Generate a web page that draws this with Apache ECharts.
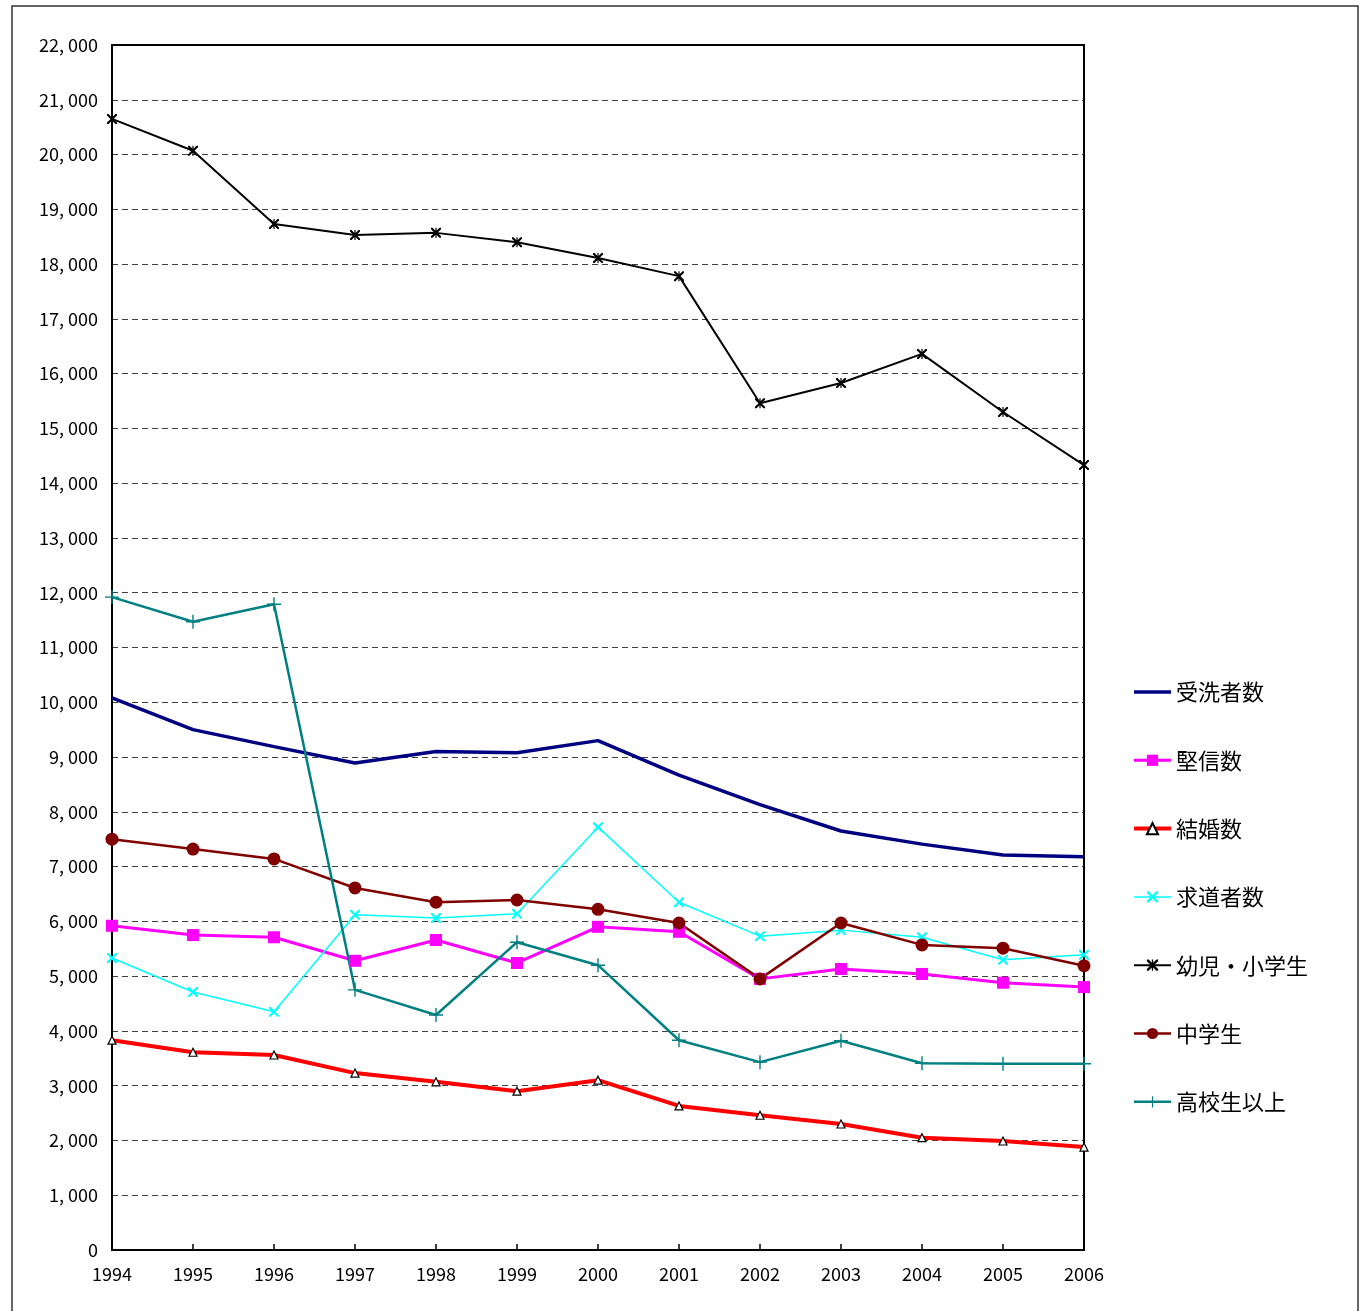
<!DOCTYPE html>
<html><head><meta charset="utf-8">
<script src="https://cdn.jsdelivr.net/npm/echarts@6/dist/echarts.min.js"></script>
<style>html,body{margin:0;padding:0;background:#fff}#c{width:1362px;height:1311px}</style>
</head><body><div id="c"></div>
<script>
const years = ['1994','1995','1996','1997','1998','1999','2000','2001','2002','2003','2004','2005','2006'];
const baptism = [10080,9500,9190,8890,9100,9080,9300,8670,8130,7650,7410,7210,7180];
const confirmation = [5920,5750,5710,5280,5660,5240,5900,5810,4950,5130,5040,4880,4800];
const marriage = [3830,3610,3560,3230,3070,2900,3100,2630,2460,2300,2050,1990,1880];
const seekers = [5330,4710,4350,6120,6060,6140,7720,6350,5730,5840,5710,5300,5390];
const children = [20650,20070,18730,18530,18570,18400,18110,17780,15460,15830,16360,15300,14330];
const juniorHigh = [7500,7320,7140,6610,6350,6390,6220,5970,4950,5970,5570,5510,5190];
const highSchoolUp = [11920,11470,11790,4750,4290,5620,5200,3830,3430,3820,3410,3400,3400];
const seriesNames = ['受洗者数','堅信数','結婚数','求道者数','幼児・小学生','中学生','高校生以上'];

const xPath = 'path://M0,0L1.5,0L10,8.5L10,10L8.5,10L0,1.5Z M10,0L10,1.5L1.5,10L0,10L0,8.5L8.5,0Z';
const starPath = 'path://M0,0L1.5,0L10,8.5L10,10L8.5,10L0,1.5Z M10,0L10,1.5L1.5,10L0,10L0,8.5L8.5,0Z M4.4,0L5.6,0L5.6,10L4.4,10Z';
const plusPath = 'path://M4.5,0L5.5,0L5.5,4.5L10,4.5L10,5.5L5.5,5.5L5.5,10L4.5,10L4.5,5.5L0,5.5L0,4.5L4.5,4.5Z';

const font = '"Noto Sans CJK JP", "Noto Sans", sans-serif';
function mk(name, data, color, width, symbol, size, itemStyle) {
  return {
    name, type: 'line', data, symbol: symbol || 'circle', symbolSize: size || 0,
    showSymbol: !!symbol,
    lineStyle: { color, width },
    itemStyle: Object.assign({ color: symbol ? color : 'rgba(0,0,0,0)', opacity: 1 }, itemStyle || {}),
    emphasis: { disabled: true }, animation: false, z: 3
  };
}
const legendWidths = [3.5, 3, 4, 1.5, 2, 2.5, 2.5];
const chart = echarts.init(document.getElementById('c'));
chart.setOption({
  backgroundColor: '#fff',
  animation: false,
  graphic: [{ type: 'rect', shape: { x: 12, y: 6, width: 1346, height: 1320 }, style: { fill: 'none', stroke: '#333', lineWidth: 1.5 }, silent: true }],
  grid: { left: 112, right: 278, top: 45, bottom: 61, show: true, borderColor: '#000', borderWidth: 2, backgroundColor: 'transparent' },
  legend: {
    orient: 'vertical', left: 1127, top: 676, itemWidth: 37, itemHeight: 14, itemGap: 46.3,
    textStyle: { fontFamily: font, fontSize: 22, color: '#000' },
    data: seriesNames.map((n, i) => ({ name: n, lineStyle: { width: legendWidths[i] } })),
    selectedMode: false
  },
  xAxis: {
    type: 'category', data: years, boundaryGap: false,
    axisLine: { lineStyle: { color: '#000', width: 2 } },
    axisTick: { inside: true, length: 6, lineStyle: { color: '#000', width: 1.5 } },
    axisLabel: { color: '#000', fontFamily: font, fontSize: 18, margin: 15 },
    splitLine: { show: false }
  },
  yAxis: {
    type: 'value', min: 0, max: 22000, interval: 1000,
    axisLine: { show: true, lineStyle: { color: '#000', width: 2 } },
    axisTick: { show: false },
    axisLabel: { color: '#000', fontFamily: font, fontSize: 18, margin: 14,
      formatter: v => v === 0 ? '0' : (Math.floor(v / 1000) + ', ' + String(v % 1000).padStart(3, '0')) },
    splitLine: { lineStyle: { color: '#000', type: [6, 4], width: 1, opacity: 0.75 } }
  },
  series: [
    mk('受洗者数', baptism, '#000080', 3.5),
    mk('堅信数', confirmation, '#FF00FF', 3, 'rect', 12),
    mk('結婚数', marriage, '#FF0000', 4, 'triangle', 8, { color: '#fff', borderColor: '#000', borderWidth: 1.2 }),
    mk('求道者数', seekers, '#00FFFF', 1.5, xPath, 10),
    mk('幼児・小学生', children, '#000000', 2, starPath, 10),
    mk('中学生', juniorHigh, '#800000', 2.5, 'circle', 13),
    mk('高校生以上', highSchoolUp, '#008080', 2.5, plusPath, 14)
  ]
});
</script></body></html>
